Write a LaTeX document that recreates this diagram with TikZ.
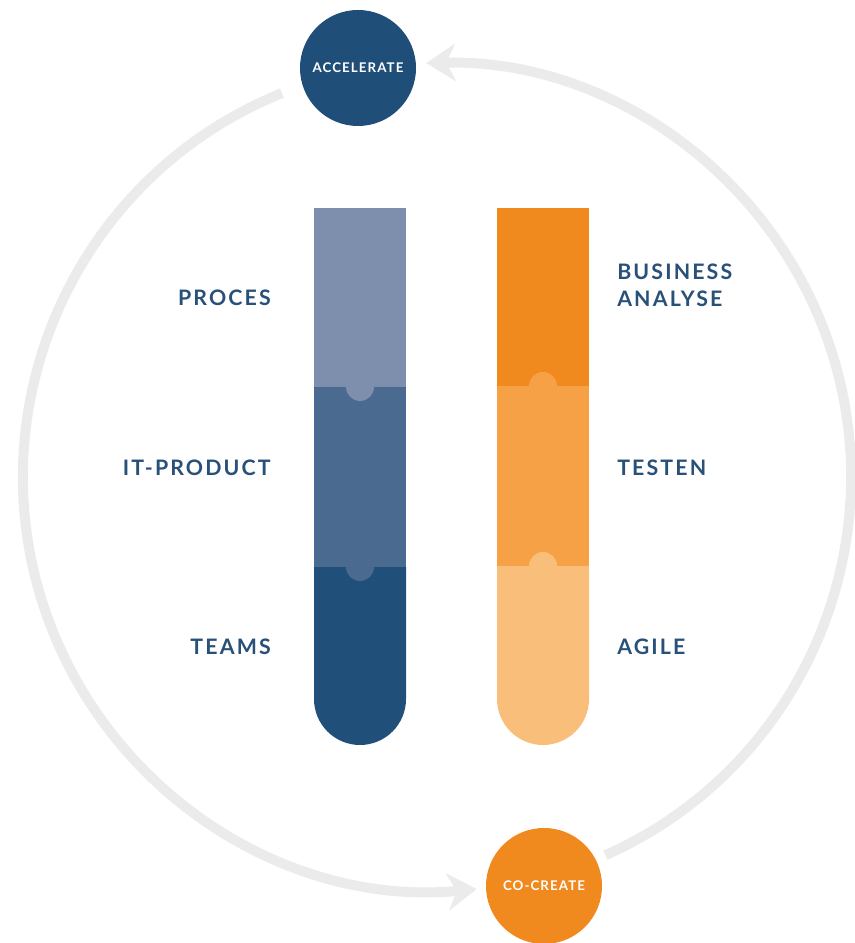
\documentclass[tikz,border=0pt]{standalone}
\usepackage{fontspec}
\setmainfont{Lato}
\usetikzlibrary{arrows.meta,calc}
\definecolor{ringgray}{HTML}{EBEBEB}
\definecolor{navy}{HTML}{1F4E79}
\definecolor{huborange}{HTML}{F0891E}
\definecolor{blueA}{HTML}{7D8FAC}
\definecolor{blueB}{HTML}{4A6A90}
\definecolor{blueC}{HTML}{20507A}
\definecolor{orangeA}{HTML}{F18A1E}
\definecolor{orangeB}{HTML}{F6A146}
\definecolor{orangeC}{HTML}{F9BF7A}
\definecolor{labelblue}{HTML}{285079}
\begin{document}
\begin{tikzpicture}[x=0.75pt,y=0.75pt,line join=round]
	\tikzset{hub/.style={circle,minimum size=87pt,inner sep=0pt,text=white,
			font=\bfseries\fontsize{10}{12}\selectfont\addfontfeatures{LetterSpace=8}},
		ringarc/.style={ringgray,line width=7.5pt,-{Stealth[length=22pt,width=28pt,inset=7pt]}},
		lbl/.style={text=labelblue,inner sep=0pt,align=left,
			font=\bfseries\fontsize{16}{20}\selectfont\addfontfeatures{LetterSpace=10}}}
	\useasboundingbox (0,0) rectangle (855,943);
	% the ring with its two arrows
	\coordinate (ring) at (437,466);
	\coordinate (rightstart) at ($(ring)+(-66:414)$);
	\coordinate (leftstart) at ($(ring)+(112:414)$);
	\draw[ringarc] (rightstart) arc[start angle=-66,end angle=91.5,radius=414];
	\draw[ringarc] (leftstart) arc[start angle=112,end angle=275.5,radius=414];
	\node[hub,fill=navy] (accelerate) at (358,875) {ACCELERATE};
	\node[hub,fill=huborange] (cocreate) at (544,57) {CO-CREATE};
	% left tube
	\fill[blueC] (314,376)--(314,244) arc[start angle=180,end angle=360,radius=46]--(406,376)--cycle;
	\foreach \col/\yb/\yt in {blueB/376/556, blueA/556/735}
	\fill[\col] (314,\yb) rectangle (406,\yt);
	\fill[blueB] (360,376) circle[radius=14];
	\fill[blueA] (360,556) circle[radius=14];
	% right tube
	\fill[orangeC] (497,377)--(497,244) arc[start angle=180,end angle=360,radius=46]--(589,377)--cycle;
	\foreach \col/\yb/\yt in {orangeB/377/557, orangeA/557/735}
	\fill[\col] (497,\yb) rectangle (589,\yt);
	\fill[orangeC] (543,377) circle[radius=14];
	\fill[orangeB] (543,557) circle[radius=14];
	% labels
	\node[lbl,anchor=east] (proces) at (271,645) {PROCES};
	\node[lbl,anchor=east] (itproduct) at (271,475) {IT-PRODUCT};
	\node[lbl,anchor=east] (teams) at (271,296) {TEAMS};
	\node[lbl,anchor=west] (business) at (617,658) {BUSINESS\\ANALYSE};
	\node[lbl,anchor=west] (testen) at (617,475) {TESTEN};
	\node[lbl,anchor=west] (agile) at (617,296) {AGILE};
\end{tikzpicture}
\end{document}
